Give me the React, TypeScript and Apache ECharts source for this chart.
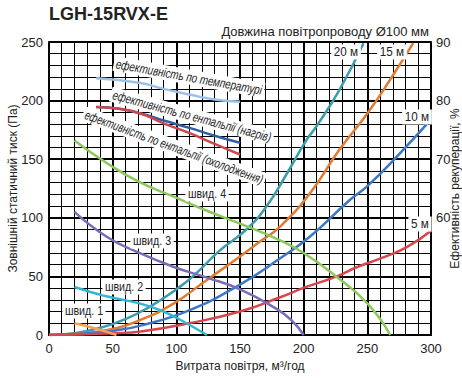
import React, { useEffect, useRef } from "react";
import * as echarts from "echarts";

const xTicks = [0, 50, 100, 150, 200, 250, 300];
const duct20: number[][] = [[0,0],[20,1.5],[40,6],[60,13.5],[79,24],[100,39],[113,50],[134,72],[155,90],[171,110],[187,138],[202,166],[210,178],[228,209],[247,249]];
const duct15: number[][] = [[0,0],[20,1],[45,4],[72,13],[98,27],[124,47],[150,67],[166,80],[181,92],[205,121],[228,158],[250,189],[268,218],[286,249]];
const duct10: number[][] = [[0,0],[25,1],[50,3.5],[72,8],[110,21],[150,43],[181,65],[205,84],[236,115],[250,127],[273,152],[300,184]];
const duct5: number[][] = [[0,0],[25,0.5],[50,1.5],[72,3],[110,10],[150,20],[181,32],[202,41],[226,50],[242,58],[262,66],[281,75],[300,89]];
const speed1: number[][] = [[20,10],[35,6],[53,0]];
const speed2: number[][] = [[20,41],[45,33],[71,27],[90,20],[103,13],[124,0]];
const speed3: number[][] = [[20,105],[45,84],[69,71],[98,58],[124,49],[150,39],[176,24],[190,13],[200,0]];
const speed4: number[][] = [[20,166],[45,147],[70,131],[98,118],[124,106],[150,95],[181,81],[200,70],[223,52],[250,27],[268,0]];
const effTemp: number[][] = [[37,83.8],[72,83],[90,82],[111,81],[130,80.2],[150,79.8]];
const effHeat: number[][] = [[37,78.9],[55,78.6],[72,77.8],[90,76.6],[111,75.3],[130,74],[150,72.8]];
const effCool: number[][] = [[37,78.9],[55,78.6],[72,77.8],[90,76.1],[111,74.4],[130,72.6],[150,70.8]];

const FONT = "'Liberation Sans Narrow', 'Liberation Sans', sans-serif";

function line(name: string, data: number[][], color: string, yAxisIndex = 0) {
  return {
    name,
    type: "line",
    data,
    yAxisIndex,
    smooth: true,
    symbol: "none",
    lineStyle: { color, width: 2.5 },
    z: 3,
  };
}

function label(text: string, x: number, y: number, rot = 0, italic = false, size = 12, sx = 1) {
  return {
    type: "text",
    x,
    y,
    rotation: rot,
    scaleX: sx,
    z: 10,
    style: {
      text,
      fill: "#222",
      font: `${italic ? "italic " : ""}${size}px ${FONT}`,
      align: "center",
      verticalAlign: "middle",
      backgroundColor: "#fff",
      padding: [1, 3],
    },
  };
}

export default function App() {
  const ref = useRef<HTMLDivElement>(null);
  useEffect(() => {
    if (!ref.current) return;
    const chart = echarts.init(ref.current, null, { renderer: "svg" });
    chart.setOption({
      animation: false,
      backgroundColor: "#fff",
      textStyle: { fontFamily: FONT },
      grid: { left: 49, right: 31, top: 42, bottom: 45, containLabel: false, outerBoundsMode: "none" },
      xAxis: {
        type: "value",
        min: xTicks[0],
        max: xTicks[xTicks.length - 1],
        interval: 50,
        name: "Витрата повітря, м³/год",
        nameLocation: "middle",
        nameGap: 25,
        nameTextStyle: { fontSize: 12, color: "#222", fontFamily: FONT },
        axisLine: { show: true, lineStyle: { color: "#000", width: 2 } },
        axisTick: { show: false },
        axisLabel: { fontSize: 13, color: "#222", margin: 7 },
        splitLine: { show: true, lineStyle: { color: "#000", width: 2 } },
        minorTick: { show: false, splitNumber: 5 },
        minorSplitLine: { show: true, lineStyle: { color: "#000", width: 1 } },
      },
      yAxis: [
        {
          type: "value",
          min: 0,
          max: 250,
          interval: 50,
          name: "Зовнішній статичний тиск (Па)",
          nameLocation: "middle",
          nameRotate: 90,
          nameGap: 30,
          nameMoveOverlap: false,
          nameTextStyle: { fontSize: 12, color: "#222", fontFamily: FONT },
          axisLine: { show: true, lineStyle: { color: "#000", width: 2 } },
          axisTick: { show: false },
          axisLabel: { fontSize: 13, color: "#222", margin: 6 },
          splitLine: { show: true, lineStyle: { color: "#000", width: 2 } },
          minorTick: { show: false, splitNumber: 5 },
          minorSplitLine: { show: true, lineStyle: { color: "#000", width: 1 } },
        },
        {
          type: "value",
          min: 40,
          max: 90,
          interval: 10,
          position: "right",
          name: "Ефективність рекуперації, %",
          nameLocation: "middle",
          nameRotate: 90,
          nameGap: 18,
          nameMoveOverlap: false,
          nameTextStyle: { fontSize: 12, color: "#222", fontFamily: FONT },
          axisLine: { show: true, lineStyle: { color: "#000", width: 2 } },
          axisTick: { show: false },
          axisLabel: {
            fontSize: 13,
            color: "#222",
            margin: 5,
            formatter: (v: number) => (v >= 60 ? String(v) : ""),
          },
          splitLine: { show: false },
        },
      ],
      series: [
        line("20 м", duct20, "#3a9dad"),
        line("15 м", duct15, "#e07b30"),
        line("10 м", duct10, "#3b78c8"),
        line("5 м", duct5, "#d6464c"),
        line("швид. 1", speed1, "#f5a255"),
        line("швид. 2", speed2, "#33b6d0"),
        line("швид. 3", speed3, "#7b6cb8"),
        line("швид. 4", speed4, "#8dc85c"),
        line("ефективність по температурі", effTemp, "#9dc0e8", 1),
        line("ефективність по ентальпії (нагрів)", effHeat, "#2f5fa5", 1),
        line("ефективність по ентальпії (охолодження)", effCool, "#cc474b", 1),
      ],
      graphic: [
        {
          type: "text",
          x: 49,
          y: 4,
          scaleX: 0.95,
          style: { text: "LGH-15RVX-E", fill: "#222", font: `bold 19px ${FONT}`, align: "left", verticalAlign: "top" },
        },
        {
          type: "text",
          x: 429,
          y: 31,
          style: { text: "Довжина повітропроводу Ø100 мм", fill: "#222", font: `13px ${FONT}`, align: "right", verticalAlign: "middle" },
        },
        label("ефективність по температурі", 189, 77, -0.18, true, 13, 0.76),
        label("ефективність по ентальпії (нагрів)", 192, 116, -0.265, true, 13, 0.74),
        label("ефективність по ентальпії (охолодження)", 174, 147, -0.355, true, 13, 0.72),
        label("швид. 4", 207, 194, 0, false, 13, 0.82),
        label("швид. 3", 152, 241, 0, false, 13, 0.82),
        label("швид. 2", 124, 287, 0, false, 13, 0.82),
        label("швид. 1", 84, 311, 0, false, 13, 0.82),
        label("20 м", 346, 52, 0, false, 13, 0.9),
        label("15 м", 392, 52, 0, false, 13, 0.9),
        label("10 м", 417, 117, 0, false, 13, 0.9),
        label("5 м", 420, 224, 0, false, 13, 0.9),
      ],
    });
    return () => chart.dispose();
  }, []);
  return <div ref={ref} style={{ position: "fixed", left: 0, top: 0, width: 462, height: 380 }} />;
}
